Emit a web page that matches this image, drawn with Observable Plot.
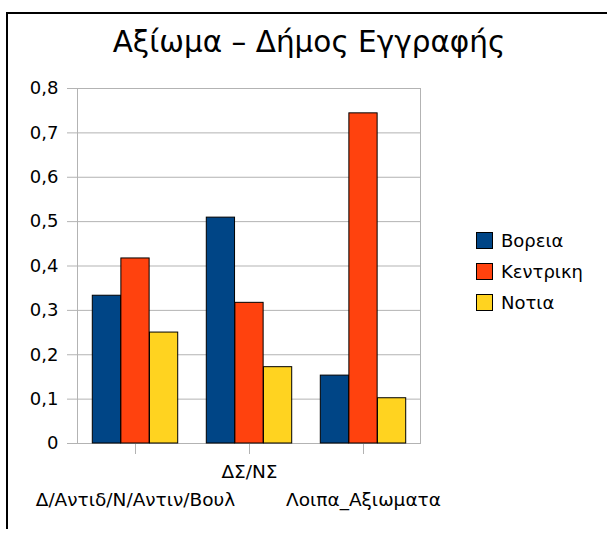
<!DOCTYPE html>
<html>
<head>
<meta charset="utf-8">
<script src="https://cdn.jsdelivr.net/npm/d3@7"></script>
<script src="https://cdn.jsdelivr.net/npm/@observablehq/plot@0.6"></script>
<style>
  html, body { margin: 0; padding: 0; background: #fff; }
  #wrap { position: relative; width: 607px; height: 538px; overflow: hidden; font-family: "DejaVu Sans", sans-serif; }
  #border { position: absolute; left: 6px; top: 12px; width: 601px; height: 517px; border-top: 2px solid #000; border-left: 2px solid #000; box-sizing: border-box; }
  #title { position: absolute; left: 109px; width: 400px; top: 28px; text-align: center; white-space: nowrap; font-family: "DejaVu Sans", sans-serif; font-size: 29.5px; color: #000; line-height: 1; }
  #chart { position: absolute; left: 0; top: 0; }
  #legend { position: absolute; left: 476px; top: 232px; font-size: 18px; color: #000; }
  .item { display: flex; align-items: center; height: 16px; margin-bottom: 15px; }
  .sw { width: 15px; height: 15px; border: 1px solid #000; margin-right: 8px; box-sizing: content-box; }
</style>
</head>
<body>
<div id="wrap">
  <div id="chart"></div>
  <div id="border"></div>
  <div id="title">Αξίωμα – Δήμος Εγγραφής</div>
  <div id="legend"></div>
</div>
<script>
const categories = ["Δ/Αντιδ/Ν/Αντιν/Βουλ", "ΔΣ/ΝΣ", "Λοιπα_Αξιωματα"];
const series = ["Βορεια", "Κεντρικη", "Νοτια"];
const valuesBoreia = [0.333, 0.509, 0.153];
const valuesKentriki = [0.417, 0.317, 0.744];
const valuesNotia = [0.250, 0.172, 0.102];
const yTicks = [0, 0.1, 0.2, 0.3, 0.4, 0.5, 0.6, 0.7, 0.8];
const colors = ["#004586", "#ff420e", "#ffd320"];

const seriesValues = [valuesBoreia, valuesKentriki, valuesNotia];
const data = categories.flatMap((c, i) => series.map((s, j) => ({category: c, series: s, value: seriesValues[j][i]})));

const W = 607, H = 538;
const mL = 77, mR = 187, mT = 88, mB = 95;
const band = (W - mL - mR) / categories.length;
const pad = band * 0.125, bw = band * 0.25;

const fmt = d => d === 0 ? "0" : d.toFixed(1).replace(".", ",");

const barMarks = series.map((s, j) => Plot.barY(data.filter(d => d.series === s), {
  x: "category", y: "value", fill: "series",
  stroke: "#000", strokeWidth: 1,
  insetLeft: pad + j * bw, insetRight: pad + (2 - j) * bw
}));

const chart = Plot.plot({
  width: W, height: H,
  marginLeft: mL, marginRight: mR, marginTop: mT, marginBottom: mB,
  style: {fontFamily: "DejaVu Sans, sans-serif", fontSize: "18px", color: "#b3b3b3", background: "transparent"},
  x: {domain: categories, padding: 0, axis: null},
  y: {domain: [0, 0.8], axis: null},
  color: {domain: series, range: colors},
  marks: [
    Plot.gridY(yTicks, {stroke: "#b3b3b3", strokeOpacity: 1}),
    Plot.frame({stroke: "#b3b3b3"}),
    Plot.axisY(yTicks, {tickSize: 10, tickPadding: 9, tickFormat: fmt, fill: "#000", stroke: "#b3b3b3", strokeOpacity: 1, fontSize: 18, label: null}),
    Plot.axisX({tickSize: 11, tickFormat: () => "", stroke: "#b3b3b3", strokeOpacity: 1, label: null}),
    ...barMarks,
    Plot.text(categories.filter((c, i) => i % 2 === 1), {x: d => d, text: d => d, frameAnchor: "bottom", dy: 34, fill: "#000", fontSize: 18.5}),
    Plot.text(categories.filter((c, i) => i % 2 === 0), {x: d => d, text: d => d, frameAnchor: "bottom", dy: 62, fill: "#000", fontSize: 18.5})
  ]
});
document.getElementById("chart").appendChild(chart);

const legend = document.getElementById("legend");
series.forEach((s, j) => {
  const it = document.createElement("div");
  it.className = "item";
  const sw = document.createElement("div");
  sw.className = "sw";
  sw.style.background = colors[j];
  const t = document.createElement("span");
  t.textContent = s;
  it.appendChild(sw); it.appendChild(t);
  legend.appendChild(it);
});
</script>
</body>
</html>
